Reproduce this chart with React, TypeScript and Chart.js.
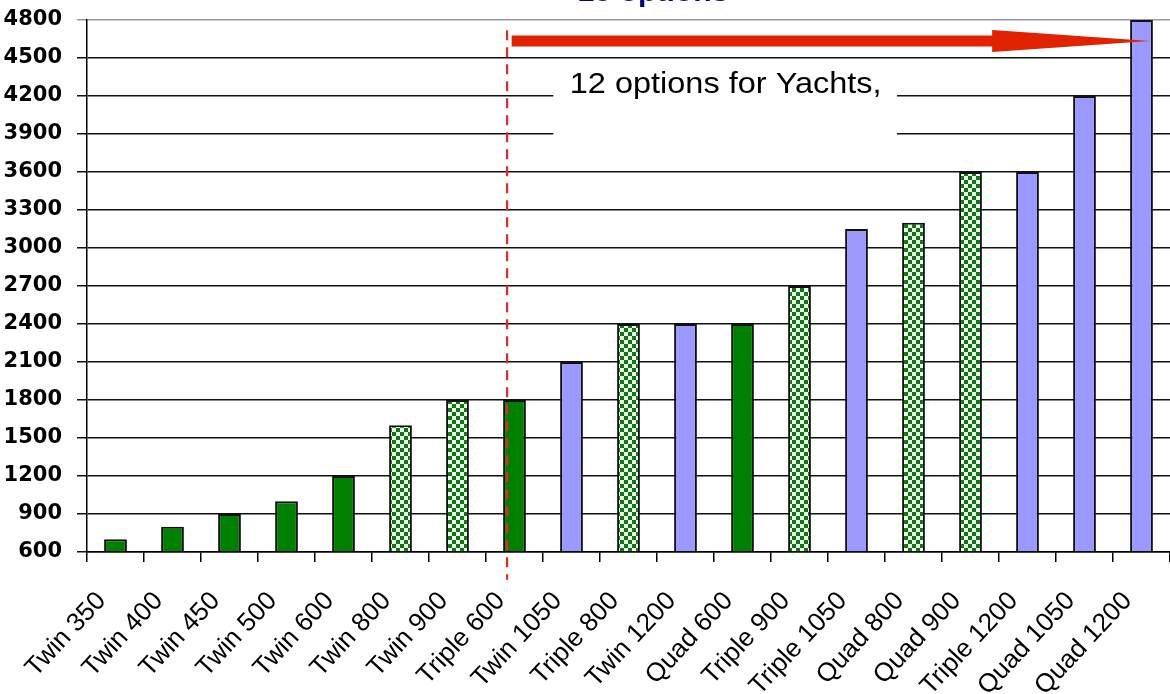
import React, { useEffect, useRef } from "react";
import { Chart, registerables } from "chart.js";

Chart.register(...registerables);

const categories = [
  "Twin 350", "Twin 400", "Twin 450", "Twin 500", "Twin 600", "Twin 800", "Twin 900",
  "Triple 600", "Twin 1050", "Triple 800", "Twin 1200", "Quad 600", "Triple 900",
  "Triple 1050", "Quad 800", "Quad 900", "Triple 1200", "Quad 1050", "Quad 1200",
];
const values = [700, 800, 900, 1000, 1200, 1600, 1800, 1800, 2100, 2400, 2400, 2400, 2700, 3150, 3200, 3600, 3600, 4200, 4800];
const fillKinds = [
  "solid", "solid", "solid", "solid", "solid", "check", "check", "solid", "blue", "check",
  "blue", "solid", "check", "blue", "check", "check", "blue", "blue", "blue",
];
const yMin = 600;
const yMax = 4800;
const yStep = 300;

const titleText = "18 options";
const noteText = "12 options for Yachts,";
// annotation anchors in data units (category index, value)
const dividerIndex = 6.87;
const dividerTop = 4720;
const dividerBottom = 380;
const arrowStart = 6.95;
const arrowHeadStart = 15.38;
const arrowTip = 18.15;
const arrowValue = 4635;
const noteBoxFrom = 7.68;
const noteBoxTo = 13.71;
const noteBoxTop = 4450;
const noteBoxBottom = 3650;
const noteTextIndex = 7.97;
const noteTextValue = 4290;

function makeChecker(): CanvasPattern | string {
  const c = document.createElement("canvas");
  c.width = 8;
  c.height = 8;
  const g = c.getContext("2d");
  if (!g) return "#008000";
  g.fillStyle = "#ffffff";
  g.fillRect(0, 0, 8, 8);
  g.fillStyle = "#008000";
  g.fillRect(0, 0, 4, 4);
  g.fillRect(4, 4, 4, 4);
  const p = g.createPattern(c, "repeat");
  return p || "#008000";
}

export default function App() {
  const ref = useRef<HTMLCanvasElement | null>(null);

  useEffect(() => {
    document.body.style.margin = "0";
    const canvas = ref.current;
    if (!canvas) return;
    const checker = makeChecker();
    const colors = fillKinds.map((k) => (k === "solid" ? "#008000" : k === "blue" ? "#9999FF" : checker));

    const annot = {
      id: "annot",
      beforeDatasetsDraw(chart: any) {
        const { ctx, scales } = chart;
        const x = scales.x, y = scales.y;
        ctx.save();
        const bx1 = x.getPixelForValue(noteBoxFrom);
        const bx2 = x.getPixelForValue(noteBoxTo);
        const by1 = y.getPixelForValue(noteBoxTop);
        const by2 = y.getPixelForValue(noteBoxBottom);
        ctx.fillStyle = "#ffffff";
        ctx.fillRect(bx1, by1, bx2 - bx1, by2 - by1);
        ctx.fillStyle = "#000000";
        ctx.font = "29px 'Liberation Sans', Arial, sans-serif";
        ctx.textBaseline = "middle";
        ctx.textAlign = "left";
        ctx.translate(x.getPixelForValue(noteTextIndex), y.getPixelForValue(noteTextValue));
        ctx.scale(1.12, 1);
        ctx.fillText(noteText, 0, 0);
        ctx.restore();
      },
      afterDraw(chart: any) {
        const { ctx, scales } = chart;
        const x = scales.x, y = scales.y;
        ctx.save();
        // divider
        const dx = x.getPixelForValue(dividerIndex);
        ctx.strokeStyle = "#E8281E";
        ctx.lineWidth = 2.2;
        ctx.setLineDash([10, 7]);
        ctx.beginPath();
        ctx.moveTo(dx, y.getPixelForValue(dividerTop));
        ctx.lineTo(dx, y.getPixelForValue(dividerBottom));
        ctx.stroke();
        ctx.setLineDash([]);
        // arrow
        const ay = y.getPixelForValue(arrowValue);
        const ax1 = x.getPixelForValue(arrowStart);
        const ah = x.getPixelForValue(arrowHeadStart);
        const at = x.getPixelForValue(arrowTip);
        ctx.fillStyle = "#E02200";
        ctx.beginPath();
        ctx.moveTo(ax1, ay - 5.5);
        ctx.lineTo(ah, ay - 5.5);
        ctx.lineTo(ah, ay - 11);
        ctx.lineTo(at, ay);
        ctx.lineTo(ah, ay + 11);
        ctx.lineTo(ah, ay + 5.5);
        ctx.lineTo(ax1, ay + 5.5);
        ctx.closePath();
        ctx.fill();
        // cut-off title
        ctx.fillStyle = "#000080";
        ctx.font = "bold 27px 'Liberation Sans', Arial, sans-serif";
        ctx.textAlign = "center";
        ctx.textBaseline = "alphabetic";
        ctx.translate(653, 1);
        ctx.scale(1.12, 1);
        ctx.fillText(titleText, 0, 0);
        ctx.restore();
      },
    };

    const chart = new Chart(canvas, {
      type: "bar",
      data: {
        labels: categories,
        datasets: [
          {
            data: values,
            backgroundColor: colors as any,
            borderColor: "#111111",
            borderWidth: 2,
            barPercentage: 0.8,
            categoryPercentage: 0.5,
            base: yMin,
          },
        ],
      },
      options: {
        animation: false,
        responsive: true,
        maintainAspectRatio: false,
        layout: { padding: { top: 20, left: 0, right: 0, bottom: 0 } },
        plugins: { legend: { display: false }, tooltip: { enabled: false }, title: { display: false } },
        scales: {
          x: {
            grid: {
              offset: true,
              drawOnChartArea: false,
              drawTicks: true,
              tickLength: 10,
              color: "#000000",
              lineWidth: 1.5,
            },
            border: { color: "#000000", width: 1.5 },
            ticks: {
              maxRotation: 47,
              minRotation: 47,
              autoSkip: false,
              color: "#000000",
              font: { family: "'Liberation Sans', Arial, sans-serif", size: 26 },
              padding: 24,
              labelOffset: -14,
            },
            afterFit(scale: any) {
              scale.height = 142;
              scale.paddingLeft = 0;
              scale.paddingRight = 0;
            },
          },
          y: {
            min: yMin,
            max: yMax,
            ticks: {
              stepSize: yStep,
              color: "#000000",
              font: { family: "'DejaVu Sans'", size: 21, weight: "bold" },
              padding: 15,
              callback: (v: any) => String(v),
            },
            grid: {
              color: (c: any) => (c.tick && c.tick.value === yMax ? "#9a9a9a" : "#111111"),
              lineWidth: 1.5,
              tickLength: 10,
            },
            border: { color: "#000000", width: 1.5 },
            afterFit(scale: any) {
              scale.width = 87;
              scale.paddingTop = 0;
              scale.paddingBottom = 0;
            },
          },
        },
      },
      plugins: [annot],
    });
    return () => chart.destroy();
  }, []);

  return (
    <div style={{ width: 1170, height: 694, position: "relative", background: "#ffffff" }}>
      <canvas ref={ref} />
    </div>
  );
}
